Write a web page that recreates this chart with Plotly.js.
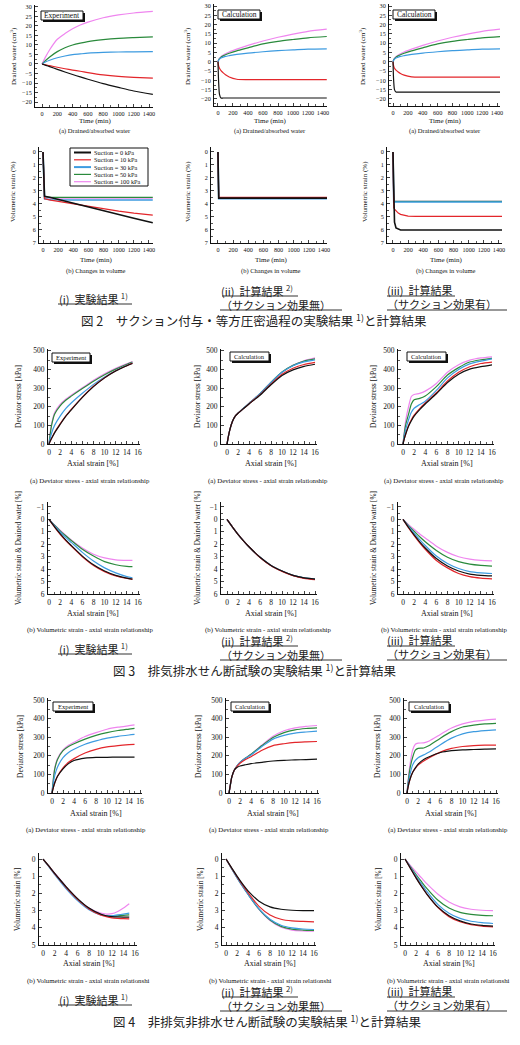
<!DOCTYPE html>
<html>
<head>
<meta charset="utf-8">
<script src="https://cdn.plot.ly/plotly-3.0.1.min.js"></script>
<style>
  html, body { margin: 0; padding: 0; background: #ffffff; }
  #chart { width: 520px; height: 1045px; }
</style>
</head>
<body>
<div id="chart"></div>
<script>
// ---------- series ----------
const seriesNames  = ['Suction = 0 kPa', 'Suction = 10 kPa', 'Suction = 30 kPa', 'Suction = 50 kPa', 'Suction = 100 kPa'];
const seriesColors = ['#111111', '#e3262b', '#3d9be0', '#2a8a3c', '#ef86ef'];

// ---------- Fig.2 (a) drained water [cm3] vs time [min] ----------
const t2aExp = [0, 50, 100, 200, 300, 400, 500, 600, 800, 1000, 1200, 1450];
const w2aExp0   = [0, -0.7, -1.4, -2.8, -4.2, -5.5, -6.8, -8.0, -10.3, -12.3, -14.2, -16.0];
const w2aExp10  = [0, -0.5, -0.9, -1.7, -2.5, -3.2, -3.8, -4.5, -5.7, -6.5, -7.0, -7.4];
const w2aExp30  = [0, 1.2, 2.0, 3.3, 4.2, 4.9, 5.3, 5.7, 6.1, 6.3, 6.4, 6.5];
const w2aExp50  = [0, 2.0, 3.7, 6.5, 8.5, 10.0, 11.0, 11.8, 12.8, 13.5, 13.9, 14.3];
const w2aExp100 = [0, 4.0, 7.5, 13.0, 16.0, 18.5, 20.5, 22.0, 24.3, 25.8, 26.8, 27.6];

const t2aCalc = [0, 5, 10, 20, 40, 70, 100, 150, 250, 400, 600, 800, 1000, 1200, 1450];
const w2aNoS0   = [0, -7, -12, -17.5, -19.5, -19.5, -19.5, -19.5, -19.5, -19.5, -19.5, -19.5, -19.5, -19.5, -19.5];
const w2aNoS10  = [0, -1.5, -2.5, -3.5, -4.8, -6.0, -7.0, -8.2, -9.4, -9.6, -9.6, -9.6, -9.6, -9.6, -9.6];
const w2aNoS30  = [0, 0.5, 0.9, 1.4, 2.0, 2.5, 2.9, 3.3, 4.0, 4.7, 5.4, 6.0, 6.4, 6.8, 7.0];
const w2aNoS50  = [0, 0.6, 1.1, 1.7, 2.5, 3.2, 3.8, 4.6, 5.9, 7.5, 9.6, 11.0, 12.0, 12.9, 13.6];
const w2aNoS100 = [0, 0.7, 1.2, 1.9, 2.8, 3.6, 4.3, 5.3, 6.8, 8.8, 11.2, 13.2, 14.9, 16.4, 17.6];

const w2aS0   = [0, -7, -11, -15, -16.3, -16.3, -16.3, -16.3, -16.3, -16.3, -16.3, -16.3, -16.3, -16.3, -16.3];
const w2aS10  = [0, -1.5, -2.5, -3.5, -4.5, -5.5, -6.3, -7.2, -8.1, -8.3, -8.3, -8.3, -8.3, -8.3, -8.3];
const w2aS30  = [0, 0.5, 0.9, 1.4, 2.0, 2.5, 2.9, 3.3, 4.0, 4.7, 5.4, 6.0, 6.4, 6.8, 7.0];
const w2aS50  = [0, 0.6, 1.1, 1.7, 2.5, 3.2, 3.8, 4.6, 5.9, 7.5, 9.6, 11.0, 12.0, 12.9, 13.6];
const w2aS100 = [0, 0.7, 1.2, 1.9, 2.8, 3.6, 4.3, 5.3, 6.8, 8.8, 11.2, 13.2, 14.9, 16.4, 17.6];

// ---------- Fig.2 (b) volumetric strain [%] vs time [min] ----------
const t2bExp = [0, 5, 10, 20, 100, 200, 400, 600, 800, 1000, 1200, 1450];
const v2bExp0   = [0, 1.5, 3.0, 3.4, 3.5, 3.65, 3.9, 4.2, 4.5, 4.8, 5.1, 5.45];
const v2bExp10  = [0, 1.5, 3.0, 3.6, 3.7, 3.8, 3.95, 4.15, 4.35, 4.55, 4.7, 4.85];
const v2bExp30  = [0, 1.5, 3.0, 3.6, 3.68, 3.7, 3.7, 3.7, 3.7, 3.7, 3.7, 3.7];
const v2bExp50  = [0, 1.5, 3.0, 3.45, 3.5, 3.5, 3.5, 3.5, 3.5, 3.5, 3.5, 3.5];
const v2bExp100 = [0, 1.5, 3.0, 3.5, 3.55, 3.55, 3.55, 3.55, 3.55, 3.55, 3.55, 3.55];

const t2bNoS = [0, 5, 10, 20, 100, 400, 800, 1200, 1450];
const v2bNoS0   = [0, 2.0, 3.55, 3.55, 3.55, 3.55, 3.55, 3.55, 3.55];
const v2bNoS10  = [0, 2.0, 3.5, 3.5, 3.5, 3.5, 3.5, 3.5, 3.5];
const v2bNoS30  = [0, 2.0, 3.6, 3.6, 3.6, 3.6, 3.6, 3.6, 3.6];
const v2bNoS50  = [0, 2.0, 3.58, 3.58, 3.58, 3.58, 3.58, 3.58, 3.58];
const v2bNoS100 = [0, 2.0, 3.57, 3.57, 3.57, 3.57, 3.57, 3.57, 3.57];

const t2bS = [0, 5, 10, 20, 40, 70, 100, 150, 200, 300, 500, 800, 1200, 1450];
const v2bS0   = [0, 2.5, 4.3, 5.4, 5.85, 5.95, 6.0, 6.0, 6.0, 6.0, 6.0, 6.0, 6.0, 6.0];
const v2bS10  = [0, 2.5, 4.3, 4.4, 4.55, 4.7, 4.8, 4.88, 4.93, 4.95, 4.95, 4.95, 4.95, 4.95];
const v2bS30  = [0, 2.5, 3.85, 3.85, 3.85, 3.85, 3.85, 3.85, 3.85, 3.85, 3.85, 3.85, 3.85, 3.85];
const v2bS50  = [0, 2.5, 3.8, 3.8, 3.8, 3.8, 3.8, 3.8, 3.8, 3.8, 3.8, 3.8, 3.8, 3.8];
const v2bS100 = [0, 2.5, 3.8, 3.8, 3.8, 3.8, 3.8, 3.8, 3.8, 3.8, 3.8, 3.8, 3.8, 3.8];

// ---------- Fig.3 (a) drained shear: deviator stress [kPa] vs axial strain [%] ----------
const e3aExp = [0, 0.25, 0.5, 1, 2, 3, 4, 6, 8, 10, 12, 14, 15];
const q3aExp0   = [0, 18, 32, 60, 105, 148, 183, 250, 308, 355, 392, 420, 432];
const q3aExp10  = [0, 18, 32, 62, 108, 150, 186, 252, 310, 356, 393, 421, 434];
const q3aExp30  = [0, 35, 62, 100, 150, 190, 220, 272, 320, 360, 395, 422, 436];
const q3aExp50  = [0, 60, 105, 160, 205, 235, 257, 298, 337, 372, 402, 428, 440];
const q3aExp100 = [0, 65, 112, 168, 212, 240, 262, 302, 342, 377, 406, 431, 443];

const e3aCalc = [0, 0.25, 0.5, 1, 1.5, 2, 3, 4, 6, 8, 10, 12, 14, 16];
const q3aNoS0   = [0, 40, 75, 122, 150, 165, 190, 215, 262, 318, 368, 398, 417, 428];
const q3aNoS10  = [0, 40, 75, 122, 150, 165, 190, 215, 265, 322, 374, 407, 427, 438];
const q3aNoS30  = [0, 40, 75, 122, 150, 165, 192, 218, 270, 330, 385, 420, 441, 452];
const q3aNoS50  = [0, 40, 75, 122, 150, 165, 192, 218, 270, 331, 386, 422, 445, 457];
const q3aNoS100 = [0, 40, 75, 122, 150, 165, 192, 218, 270, 330, 385, 423, 447, 462];

const q3aS0   = [0, 30, 55, 95, 125, 150, 185, 215, 270, 330, 375, 402, 415, 425];
const q3aS10  = [0, 30, 55, 100, 130, 155, 190, 220, 275, 338, 385, 415, 432, 440];
const q3aS30  = [0, 45, 80, 130, 170, 192, 212, 230, 288, 355, 400, 430, 445, 457];
const q3aS50  = [0, 60, 105, 160, 215, 238, 245, 258, 308, 370, 410, 440, 452, 460];
const q3aS100 = [0, 70, 130, 200, 255, 266, 272, 284, 325, 385, 425, 450, 462, 468];

// ---------- Fig.3 (b) volumetric strain & drained water [%] vs axial strain [%] ----------
const e3bExp = [0, 1, 2, 3, 4, 6, 8, 10, 12, 14, 15];
const v3bExp0   = [0, 0.6, 1.15, 1.65, 2.1, 2.95, 3.65, 4.15, 4.5, 4.72, 4.8];
const v3bExp10  = [0, 0.62, 1.2, 1.7, 2.15, 3.0, 3.7, 4.2, 4.55, 4.75, 4.82];
const v3bExp30  = [0, 0.52, 1.0, 1.45, 1.85, 2.65, 3.35, 3.9, 4.3, 4.6, 4.7];
const v3bExp50  = [0, 0.47, 0.92, 1.32, 1.7, 2.4, 2.95, 3.4, 3.65, 3.78, 3.8];
const v3bExp100 = [0, 0.45, 0.87, 1.27, 1.65, 2.3, 2.8, 3.1, 3.25, 3.3, 3.3];

const e3bCalc = [0, 1, 2, 3, 4, 6, 8, 10, 12, 14, 16];
const v3bNoS0   = [0, 0.62, 1.2, 1.72, 2.2, 3.05, 3.7, 4.15, 4.5, 4.7, 4.8];
const v3bNoS10  = [0, 0.62, 1.2, 1.72, 2.2, 3.06, 3.72, 4.18, 4.52, 4.74, 4.85];
const v3bNoS30  = [0, 0.62, 1.2, 1.72, 2.2, 3.05, 3.7, 4.15, 4.5, 4.7, 4.8];
const v3bNoS50  = [0, 0.62, 1.2, 1.72, 2.2, 3.05, 3.7, 4.15, 4.5, 4.7, 4.8];
const v3bNoS100 = [0, 0.62, 1.2, 1.72, 2.2, 3.05, 3.7, 4.15, 4.5, 4.7, 4.8];

const v3bS0   = [0, 0.65, 1.25, 1.8, 2.3, 3.15, 3.75, 4.15, 4.4, 4.5, 4.55];
const v3bS10  = [0, 0.68, 1.3, 1.88, 2.4, 3.3, 3.9, 4.35, 4.6, 4.72, 4.78];
const v3bS30  = [0, 0.57, 1.1, 1.62, 2.1, 2.95, 3.55, 3.95, 4.2, 4.3, 4.35];
const v3bS50  = [0, 0.5, 0.95, 1.4, 1.8, 2.5, 3.05, 3.4, 3.6, 3.7, 3.75];
const v3bS100 = [0, 0.42, 0.8, 1.17, 1.5, 2.15, 2.65, 3.0, 3.2, 3.3, 3.33];

// ---------- Fig.4 (a) undrained shear: deviator stress [kPa] vs axial strain [%] ----------
const e4aExp = [0, 0.25, 0.5, 1, 2, 3, 4, 6, 8, 10, 12, 14, 15];
const q4aExp0   = [0, 30, 55, 90, 130, 158, 175, 188, 192, 192, 193, 193, 193];
const q4aExp10  = [0, 30, 55, 90, 135, 165, 185, 215, 235, 248, 255, 260, 262];
const q4aExp30  = [0, 55, 95, 140, 190, 218, 235, 262, 280, 295, 305, 312, 315];
const q4aExp50  = [0, 75, 130, 180, 228, 250, 265, 290, 310, 325, 336, 344, 348];
const q4aExp100 = [0, 80, 135, 185, 232, 257, 273, 304, 325, 343, 354, 362, 366];

const e4aCalc = [0, 0.25, 0.5, 1, 1.5, 2, 3, 4, 6, 8, 10, 12, 14, 16];
const q4aNoS0   = [0, 45, 85, 125, 138, 145, 152, 158, 165, 172, 176, 178, 180, 182];
const q4aNoS10  = [0, 45, 85, 125, 145, 160, 180, 195, 230, 255, 265, 272, 275, 277];
const q4aNoS30  = [0, 45, 85, 125, 148, 165, 187, 205, 250, 290, 310, 322, 328, 333];
const q4aNoS50  = [0, 45, 85, 125, 148, 165, 188, 208, 255, 298, 325, 340, 347, 350];
const q4aNoS100 = [0, 45, 85, 125, 148, 165, 188, 208, 258, 305, 335, 350, 358, 363];

const q4aS0   = [0, 40, 70, 110, 135, 155, 180, 195, 218, 228, 232, 234, 236, 237];
const q4aS10  = [0, 40, 70, 110, 133, 150, 172, 190, 220, 240, 250, 255, 257, 258];
const q4aS30  = [0, 55, 95, 150, 175, 190, 205, 220, 260, 295, 318, 330, 336, 340];
const q4aS50  = [0, 70, 125, 190, 230, 240, 242, 255, 295, 330, 355, 365, 372, 375];
const q4aS100 = [0, 80, 145, 230, 262, 268, 270, 280, 315, 350, 372, 385, 392, 397];

// ---------- Fig.4 (b) volumetric strain [%] vs axial strain [%] ----------
const e4bExp = [0, 1, 2, 3, 4, 6, 8, 10, 11, 12, 13, 14, 15];
const v4bExp0   = [0, 0.4, 0.82, 1.22, 1.6, 2.3, 2.85, 3.2, 3.3, 3.35, 3.37, 3.38, 3.38];
const v4bExp10  = [0, 0.42, 0.85, 1.25, 1.65, 2.35, 2.9, 3.25, 3.35, 3.42, 3.45, 3.47, 3.48];
const v4bExp30  = [0, 0.45, 0.9, 1.32, 1.72, 2.42, 2.95, 3.25, 3.3, 3.3, 3.25, 3.2, 3.15];
const v4bExp50  = [0, 0.42, 0.85, 1.25, 1.63, 2.32, 2.88, 3.22, 3.3, 3.32, 3.3, 3.28, 3.25];
const v4bExp100 = [0, 0.4, 0.8, 1.2, 1.6, 2.3, 2.85, 3.15, 3.2, 3.18, 3.05, 2.85, 2.6];

const e4bCalc = [0, 1, 2, 3, 4, 6, 8, 10, 12, 14, 16];
const v4bNoS0   = [0, 0.5, 1.0, 1.45, 1.85, 2.45, 2.78, 2.92, 2.98, 3.0, 3.0];
const v4bNoS10  = [0, 0.52, 1.02, 1.5, 1.95, 2.75, 3.25, 3.5, 3.6, 3.63, 3.65];
const v4bNoS30  = [0, 0.55, 1.08, 1.58, 2.05, 2.9, 3.5, 3.85, 4.0, 4.07, 4.1];
const v4bNoS50  = [0, 0.55, 1.08, 1.58, 2.05, 2.92, 3.55, 3.92, 4.08, 4.13, 4.15];
const v4bNoS100 = [0, 0.55, 1.08, 1.58, 2.05, 2.93, 3.58, 3.97, 4.13, 4.18, 4.2];

const v4bS0   = [0, 0.55, 1.1, 1.6, 2.05, 2.8, 3.3, 3.6, 3.78, 3.86, 3.9];
const v4bS10  = [0, 0.55, 1.08, 1.58, 2.05, 2.82, 3.35, 3.65, 3.82, 3.9, 3.95];
const v4bS30  = [0, 0.5, 1.0, 1.45, 1.9, 2.65, 3.15, 3.45, 3.62, 3.7, 3.75];
const v4bS50  = [0, 0.45, 0.9, 1.32, 1.72, 2.4, 2.85, 3.1, 3.22, 3.28, 3.3];
const v4bS100 = [0, 0.38, 0.75, 1.1, 1.45, 2.05, 2.5, 2.78, 2.92, 2.98, 3.0];

// ---------- page geometry helpers (pixel -> paper) ----------
const W = 520, H = 1045;
const fx = p => p / W;
const fy = p => 1 - p / H;
const SERIF = 'Liberation Serif, Times New Roman, serif';
const JP = 'Noto Sans CJK JP, sans-serif';

// panel frames in pixels: [left, right], [top, bottom]
const panels = [
  // Fig.2 row (a)
  {px: [35, 153],  py: [5, 107],   xr: [-92, 1452], yr: [-22.6, 31], x: t2aExp,  ys: [w2aExp0, w2aExp10, w2aExp30, w2aExp50, w2aExp100], kind: 'time', yd: 5,   ym: 2.5, fs: 6.2},
  {px: [214, 327], py: [4, 106],   xr: [-53, 1453], yr: [-23.8, 31.1], x: t2aCalc, ys: [w2aNoS0, w2aNoS10, w2aNoS30, w2aNoS50, w2aNoS100], kind: 'time', yd: 5, ym: 2.5, fs: 6.2},
  {px: [389, 500], py: [4, 106],   xr: [-54, 1440], yr: [-23.8, 31.1], x: t2aCalc, ys: [w2aS0, w2aS10, w2aS30, w2aS50, w2aS100], kind: 'time', yd: 5, ym: 2.5, fs: 6.2},
  // Fig.2 row (b)
  {px: [39, 153],  py: [147, 243], xr: [-53, 1453], yr: [7, -0.38], x: t2bExp, ys: [v2bExp0, v2bExp10, v2bExp30, v2bExp50, v2bExp100], kind: 'time', yd: 1, ym: 0.5, fs: 6.2, linear: true},
  {px: [211, 327], py: [147, 243], xr: [-92, 1440], yr: [7, -0.38], x: t2bNoS, ys: [v2bNoS0, v2bNoS10, v2bNoS30, v2bNoS50, v2bNoS100], kind: 'time', yd: 1, ym: 0.5, fs: 6.2, linear: true},
  {px: [387, 502], py: [147, 243], xr: [-79, 1440], yr: [7, -0.38], x: t2bS, ys: [v2bS0, v2bS10, v2bS30, v2bS50, v2bS100], kind: 'time', yd: 1, ym: 0.5, fs: 6.2, linear: true},
  // Fig.3 row (a)
  {px: [48, 140],  py: [349, 444], xr: [-0.18, 16.36], yr: [0, 510], x: e3aExp,  ys: [q3aExp0, q3aExp10, q3aExp30, q3aExp50, q3aExp100], kind: 'strain', yd: 100, ym: 50, fs: 7.5},
  {px: [221, 317], py: [349, 444], xr: [-1.09, 16.36], yr: [0, 510], x: e3aCalc, ys: [q3aNoS0, q3aNoS10, q3aNoS30, q3aNoS50, q3aNoS100], kind: 'strain', yd: 100, ym: 50, fs: 7.5},
  {px: [398, 494], py: [349, 444], xr: [-0.9, 16.36], yr: [0, 510], x: e3aCalc, ys: [q3aS0, q3aS10, q3aS30, q3aS50, q3aS100], kind: 'strain', yd: 100, ym: 50, fs: 7.5},
  // Fig.3 row (b)
  {px: [48, 140],  py: [502, 594], xr: [-0.18, 16.36], yr: [6, -1.4], x: e3bExp,  ys: [v3bExp0, v3bExp10, v3bExp30, v3bExp50, v3bExp100], kind: 'strain', yd: 1, ym: 0.5, fs: 7.5},
  {px: [221, 317], py: [502, 594], xr: [-1.09, 16.36], yr: [6, -1.4], x: e3bCalc, ys: [v3bNoS0, v3bNoS10, v3bNoS30, v3bNoS50, v3bNoS100], kind: 'strain', yd: 1, ym: 0.5, fs: 7.5},
  {px: [398, 494], py: [502, 594], xr: [-0.9, 16.36], yr: [6, -1.4], x: e3bCalc, ys: [v3bS0, v3bS10, v3bS30, v3bS50, v3bS100], kind: 'strain', yd: 1, ym: 0.5, fs: 7.5},
  // Fig.4 row (a)
  {px: [48, 142],  py: [698, 793], xr: [-0.73, 16.36], yr: [0, 511], x: e4aExp,  ys: [q4aExp0, q4aExp10, q4aExp30, q4aExp50, q4aExp100], kind: 'strain', yd: 100, ym: 50, fs: 7.5},
  {px: [226, 319], py: [698, 793], xr: [-0.55, 16.36], yr: [0, 511], x: e4aCalc, ys: [q4aNoS0, q4aNoS10, q4aNoS30, q4aNoS50, q4aNoS100], kind: 'strain', yd: 100, ym: 50, fs: 7.5},
  {px: [404, 498], py: [698, 793], xr: [-0.54, 16.36], yr: [0, 511], x: e4aCalc, ys: [q4aS0, q4aS10, q4aS30, q4aS50, q4aS100], kind: 'strain', yd: 100, ym: 50, fs: 7.5},
  // Fig.4 row (b)
  {px: [39, 137],  py: [853, 945], xr: [-0.7, 16.35], yr: [5, -0.35], x: e4bExp,  ys: [v4bExp0, v4bExp10, v4bExp30, v4bExp50, v4bExp100], kind: 'strain', yd: 1, ym: 0.5, fs: 7.5},
  {px: [222, 316], py: [853, 945], xr: [-0.73, 16.36], yr: [5, -0.35], x: e4bCalc, ys: [v4bNoS0, v4bNoS10, v4bNoS30, v4bNoS50, v4bNoS100], kind: 'strain', yd: 1, ym: 0.5, fs: 7.5},
  {px: [401, 495], py: [853, 945], xr: [-0.73, 16.36], yr: [5, -0.35], x: e4bCalc, ys: [v4bS0, v4bS10, v4bS30, v4bS50, v4bS100], kind: 'strain', yd: 1, ym: 0.5, fs: 7.5}
];

const traces = [];
const layout = {
  width: W, height: H,
  margin: {l: 0, r: 0, t: 0, b: 0},
  paper_bgcolor: '#ffffff', plot_bgcolor: 'rgba(0,0,0,0)',
  showlegend: false,
  font: {family: SERIF, color: '#111111'},
  shapes: [], annotations: []
};

panels.forEach((p, i) => {
  const n = i + 1;
  const xs = n === 1 ? 'x' : 'x' + n;
  const ysId = n === 1 ? 'y' : 'y' + n;
  const xKey = n === 1 ? 'xaxis' : 'xaxis' + n;
  const yKey = n === 1 ? 'yaxis' : 'yaxis' + n;
  const isTime = p.kind === 'time';
  const axisCommon = {
    showline: true, linecolor: '#111111', linewidth: 1,
    ticks: 'inside', ticklen: 3, tickwidth: 0.8, tickcolor: '#111111',
    showgrid: false, zeroline: false, fixedrange: true, tickangle: 0,
    tickfont: {family: SERIF, size: p.fs, color: '#111111'}
  };
  layout[xKey] = Object.assign({}, axisCommon, {
    domain: [fx(p.px[0]), fx(p.px[1])], anchor: ysId, range: p.xr,
    tick0: 0, dtick: isTime ? 200 : 2, ticklabelstandoff: 1,
    minor: {ticks: 'inside', ticklen: 1.8, tickwidth: 0.7, tickcolor: '#111111', dtick: isTime ? 100 : 1}
  });
  layout[yKey] = Object.assign({}, axisCommon, {
    domain: [fy(p.py[1]), fy(p.py[0])], anchor: xs, range: p.yr,
    tick0: 0, dtick: p.yd, ticklabelstandoff: 1,
    minor: {ticks: 'inside', ticklen: 1.8, tickwidth: 0.7, tickcolor: '#111111', dtick: p.ym}
  });
  // draw order: 100, 50, 30, 10, 0 kPa
  [4, 3, 2, 1, 0].forEach(s => {
    traces.push({
      type: 'scatter', mode: 'lines', x: p.x, y: p.ys[s],
      xaxis: xs, yaxis: ysId, name: seriesNames[s], showlegend: false,
      hoverinfo: 'skip',
      line: {color: seriesColors[s], width: (p.linear && (s === 0 || s === 2)) ? 1.6 : 1.2,
             shape: p.linear ? 'linear' : 'spline', smoothing: 0.7}
    });
  });
});

// ---------- text helpers ----------
function txt(x, y, text, size, opt) {
  layout.annotations.push(Object.assign({
    xref: 'paper', yref: 'paper', x: fx(x), y: fy(y), text: text, showarrow: false,
    xanchor: 'center', yanchor: 'middle', borderpad: 0,
    font: {family: SERIF, size: size, color: '#111111'}
  }, opt || {}));
}
function vtxt(x, y, text, size) {
  txt(x, y, text, size, {textangle: -90});
}
function jtxt(x, y, text, size) {
  txt(x, y, text, size, {xanchor: 'left', align: 'left',
    font: {family: JP, size: size, color: '#222222'}});
}
function uline(x0, x1, y) {
  layout.shapes.push({type: 'line', xref: 'paper', yref: 'paper',
    x0: fx(x0), x1: fx(x1), y0: fy(y), y1: fy(y), line: {color: '#333333', width: 1}});
}
function tag(x0, y0, x1, y1, label, size) {
  layout.shapes.push({type: 'rect', xref: 'paper', yref: 'paper',
    x0: fx(x0 + 2), x1: fx(x1 + 2), y0: fy(y1 + 2), y1: fy(y0 + 2),
    fillcolor: '#111111', line: {width: 0}});
  layout.shapes.push({type: 'rect', xref: 'paper', yref: 'paper',
    x0: fx(x0), x1: fx(x1), y0: fy(y1), y1: fy(y0),
    fillcolor: '#ffffff', line: {color: '#111111', width: 1}});
  txt((x0 + x1) / 2, (y0 + y1) / 2, label, size);
}

// ---------- Fig.2 ----------
[13, 187, 362].forEach(x => vtxt(x, 56, 'Drained water (cm<sup>3</sup>)', 7));
[95, 270, 445].forEach(x => { txt(x, 121, 'Time (min)', 7); txt(x, 131, '(a) Drained/absorbed water', 6.5); });
[13, 188, 365].forEach(x => vtxt(x, 192, 'Volumetric strain (%)', 7));
[96, 271, 446].forEach(x => { txt(x, 260, 'Time (min)', 7); txt(x, 271, '(b) Changes in volume', 6.5); });
tag(41, 11, 83, 20, 'Experiment', 7.5);
tag(218, 10, 260, 19, 'Calculation', 7.5);
tag(393, 10, 435, 19, 'Calculation', 7.5);

// suction legend
layout.shapes.push({type: 'rect', xref: 'paper', yref: 'paper',
  x0: fx(70), x1: fx(148), y0: fy(186), y1: fy(148),
  fillcolor: '#ffffff', line: {color: '#111111', width: 1}});
seriesNames.forEach((name, s) => {
  const y = 152.5 + s * 7.3;
  layout.shapes.push({type: 'line', xref: 'paper', yref: 'paper',
    x0: fx(74), x1: fx(91), y0: fy(y), y1: fy(y),
    line: {color: seriesColors[s], width: (s === 0 || s === 2) ? 2 : 1.2}});
  txt(93, y, name, 6.3, {xanchor: 'left'});
});

// ---------- Fig.3 ----------
[18, 197, 373].forEach(x => vtxt(x, 397, 'Deviator stress [kPa]', 7.5));
[93, 271, 447].forEach(x => txt(x, 463, 'Axial strain [%]', 8));
[90, 268, 444].forEach(x => txt(x, 481, '(a) Deviator stress - axial strain relationship', 6.8));
[18, 197, 373].forEach(x => vtxt(x, 548, 'Volumetric strain &amp; Drained water [%]', 7.3));
[93, 271, 447].forEach(x => txt(x, 613, 'Axial strain [%]', 8));
[90, 268, 444].forEach(x => txt(x, 630, '(b) Volumetric strain - axial strain relationship', 6.8));
tag(52, 353, 90, 362, 'Experiment', 6.5);
tag(230, 352, 269, 361, 'Calculation', 6.5);
tag(407, 352, 446, 361, 'Calculation', 6.5);

// ---------- Fig.4 ----------
[20, 198, 377].forEach(x => vtxt(x, 747, 'Deviator stress [kPa]', 7.5));
[96, 273, 451].forEach(x => txt(x, 813, 'Axial strain [%]', 8));
[86, 269, 448].forEach(x => txt(x, 830, '(a) Deviator stress - axial strain relationship', 6.8));
[17, 200, 378].forEach(x => vtxt(x, 900, 'Volumetric strain [%]', 7.3));
[89, 270, 449].forEach(x => txt(x, 963, 'Axial strain [%]', 8));
[88, 270, 448].forEach(x => txt(x, 981, '(b) Volumetric strain - axial strain relationshi', 6.8));
tag(53, 702, 93, 711, 'Experiment', 6.5);
tag(231, 702, 269, 711, 'Calculation', 6.5);
tag(409, 702, 449, 711, 'Calculation', 6.5);

// ---------- captions under each figure ----------
const capI    = '(i)  実験結果 <sup>1)</sup>';
const capII   = '(ii)  計算結果 <sup>2)</sup><br>（サクション効果無）';
const capIII  = '(iii)  計算結果<br>（サクション効果有）';
const fig2Cap = '図 2　サクション付与・等方圧密過程の実験結果 <sup>1)</sup>と計算結果';
const fig3Cap = '図 3　排気排水せん断試験の実験結果 <sup>1)</sup>と計算結果';
const fig4Cap = '図 4　非排気非排水せん断試験の実験結果 <sup>1)</sup>と計算結果';

function captionBlock(yTop, figText, figX) {
  jtxt(58, yTop + 8, capI, 11);
  uline(58, 132, yTop + 14);
  // two-line captions (line pitch 1.3em), first line centred at yTop
  jtxt(220, yTop + 7, capII, 11);
  uline(222, 298, yTop + 6);
  uline(220, 342, yTop + 20);
  jtxt(386, yTop + 7, capIII, 11);
  uline(387, 455, yTop + 6);
  uline(387, 507, yTop + 20);
  jtxt(figX, yTop + 30, figText, 12.5);
}
captionBlock(290, fig2Cap, 80);
captionBlock(640, fig3Cap, 112);
captionBlock(991, fig4Cap, 112);

Plotly.newPlot('chart', traces, layout, {staticPlot: true, displayModeBar: false});
</script>
</body>
</html>
